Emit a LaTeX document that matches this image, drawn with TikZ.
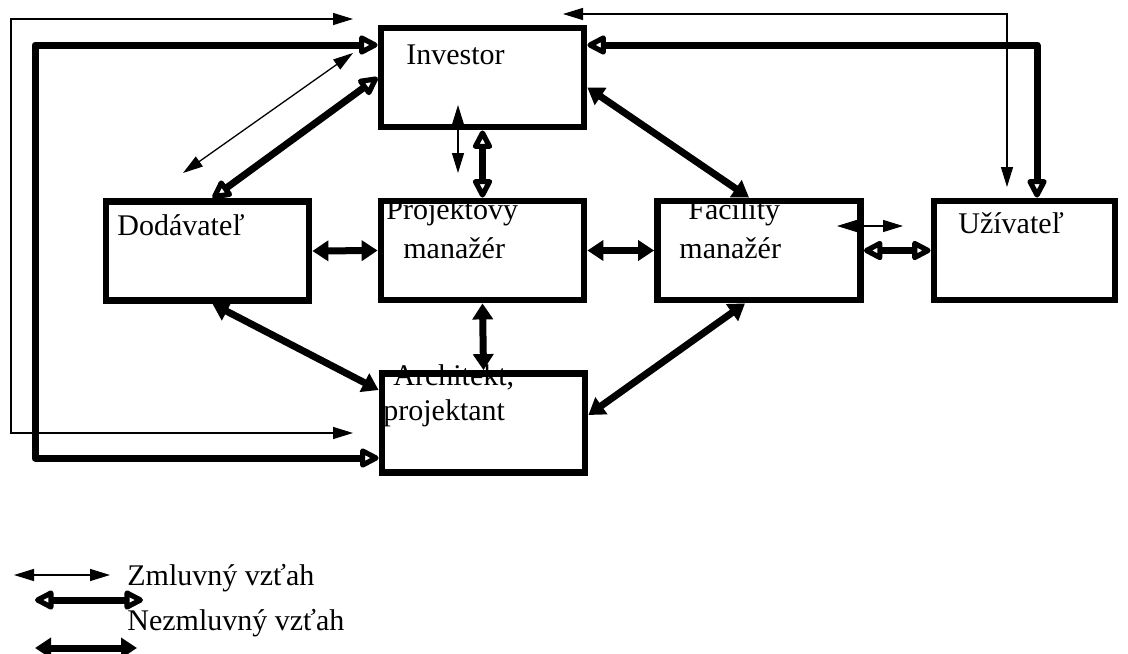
\documentclass[tikz,border=0pt]{standalone}
\usepackage{fontspec}
\setmainfont{Liberation Serif}
\usetikzlibrary{arrows.meta,calc}
\tikzset{
  box/.style={draw, line width=3.4pt, inner sep=0pt, minimum width=101.5pt, minimum height=49.5pt},
  lbl/.style={anchor=base west, inner sep=0pt, font=\fontsize{15pt}{18pt}\selectfont},
  thickline/.style={line width=3.5pt, line join=round},
  thinline/.style={line width=0.65pt},
  solidarr/.style={{Triangle[length=8pt,width=10pt]}-{Triangle[length=8pt,width=10pt]}},
  hollowarr/.style={{Triangle[open,round,length=11pt,width=10.5pt,line width=2.6pt]}-{Triangle[open,round,length=11pt,width=10.5pt,line width=2.6pt]}},
  thinarr/.style={{Triangle[length=10pt,width=6pt]}-{Triangle[length=10pt,width=6pt]}}
}
\begin{document}
\begin{tikzpicture}[x=0.5pt,y=-0.5pt]
\useasboundingbox (0,0) rectangle (1128,653);
% texts (drawn below box borders)
\node[lbl] (tinv) at (406,64) {Investor};
\node[lbl] (tdod) at (117,235) {Dodávateľ};
\node[lbl] (tpm1) at (386,219) {Projektový};
\node[lbl] (tpm2) at (403,258) {manažér};
\node[lbl] (tfm1) at (688,219) {Facility};
\node[lbl] (tfm2) at (679,258) {manažér};
\node[lbl] (tuz) at (958,233) {Užívateľ};
\node[lbl] (tar1) at (393,385) {Architekt,};
\node[lbl] (tar2) at (383,420) {projektant};
% boxes
\node[box] (inv) at (482.5,77.5) {};
\node[box] (dod) at (207.5,251) {};
\node[box] (pm) at (482.5,250.5) {};
\node[box] (fm) at (759,250.5) {};
\node[box, minimum width=90.5pt] (uz) at (1024.5,250.5) {};
\node[box] (arch) at (483.5,423) {};
% free-end coordinates
\coordinate (lk) at (35,45);
\coordinate (lk2) at (35,458);
\coordinate (rk) at (1037,45);
\coordinate (lt0) at (353,19);
\coordinate (lt1) at (11,19);
\coordinate (lt2) at (11,433);
\coordinate (lt3) at (353,433);
\coordinate (rt0) at (563,14);
\coordinate (rt1) at (1007,14);
\coordinate (rt2) at (1007,187);
\coordinate (ip1) at (458,105);
\coordinate (ip2) at (458,173);
\coordinate (id1) at (353,53);
\coordinate (id2) at (183,173);
\coordinate (fu1) at (837,226);
\coordinate (fu2) at (903,226);
% connectors
\draw[thickline, solidarr] (dod.east) -- (pm.west);
\draw[thickline, solidarr] (pm.east) -- (fm.west);
\draw[thickline, hollowarr] (fm.east) -- (uz.west);
\draw[thinline, thinarr] (fu1) -- (fu2);
\draw[thickline, hollowarr] (inv.south) -- (pm.north);
\draw[thinline, thinarr] (ip1) -- (ip2);
\draw[thickline, solidarr] (pm.south) -- (arch.north);
\draw[thickline, hollowarr] (inv.west) -- ($(dod.north)+(5,0)$);
\draw[thinline, thinarr] (id1) -- (id2);
\draw[thickline, solidarr] ($(inv.east)+(0,10)$) -- ($(fm.north)+(-10,0)$);
\draw[thickline, solidarr] ($(dod.south)+(5,0)$) -- ($(arch.west)+(0,-33)$);
\draw[thickline, solidarr] ($(fm.south)+(-14,0)$) -- ($(arch.east)+(0,-8)$);
\draw[thickline, hollowarr] (inv.west |- lk) -- (lk) -- (lk2) -- (arch.west |- lk2);
\draw[thickline, hollowarr] (inv.east |- rk) -- (rk) -- (rk |- uz.north);
\draw[thinline, thinarr] (lt0) -- (lt1) -- (lt2) -- (lt3);
\draw[thinline, thinarr] (rt0) -- (rt1) -- (rt2);
% legend
\coordinate (l1a) at (14,575);
\coordinate (l1b) at (110,575);
\coordinate (l2a) at (35,600);
\coordinate (l2b) at (143,600);
\coordinate (l3a) at (35,648);
\coordinate (l3b) at (137,648);
\draw[thinline, thinarr] (l1a) -- (l1b);
\draw[thickline, hollowarr] (l2a) -- (l2b);
\draw[thickline, solidarr] (l3a) -- (l3b);
\node[lbl] (leg1) at (127,585) {Zmluvný vzťah};
\node[lbl] (leg2) at (127,630) {Nezmluvný vzťah};
\end{tikzpicture}
\end{document}
